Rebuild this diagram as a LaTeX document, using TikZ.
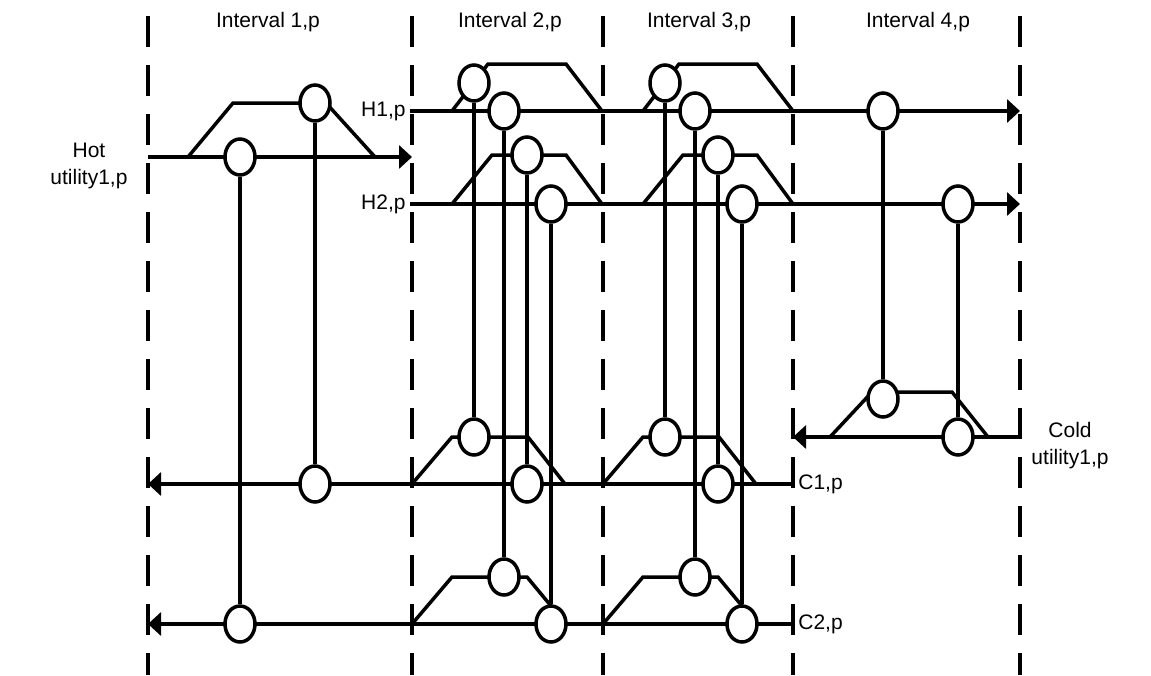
\documentclass[tikz,border=0pt]{standalone}
\usepackage{fontspec}
\setmainfont{Liberation Sans}
\usepackage{tikz}
\usetikzlibrary{arrows.meta,calc,positioning,shapes.geometric}
\newcommand{\bypass}[6]{%
  \draw[stream] (#1,#5) -- (#2,#6) -- (#3,#6) -- (#4,#5);
}
\newcommand{\hxlink}[4]{%
  \node[hx] (#1h) at (#2,#3) {};
  \node[hx] (#1c) at (#2,#4) {};
  \draw[stream] (#1h) -- (#1c);
}

\begin{document}
\begin{tikzpicture}[x=.5pt,y=-.5pt,font=\fontsize{10.5}{13.5}\selectfont,
    stream/.style={line width=1.75pt},
    flow/.style={stream,-{Triangle[length=6.5pt,width=11.5pt]}},
    divider/.style={line width=2pt,dash pattern=on 15.5pt off 9pt},
    hx/.style={ellipse,draw,fill=white,line width=1.75pt,inner sep=0pt,
      minimum width=15pt,minimum height=18pt},
    lbl/.style={inner sep=2pt,align=center}]
    \useasboundingbox (0,0) rectangle (1151,675);
    \foreach \xl in {148,412,603,793,1020}
      \draw[divider] (\xl,16) -- (\xl,675);
    \node[lbl] (int1) at (268,22) {Interval 1,p};
    \node[lbl] (int2) at (510,22) {Interval 2,p};
    \node[lbl] (int3) at (699,22) {Interval 3,p};
    \node[lbl] (int4) at (918,22) {Interval 4,p};
    \node[lbl,anchor=east] (h1lab) at (410,111) {H1,p};
    \node[lbl,anchor=east] (h2lab) at (410,204) {H2,p};
    \node[lbl,anchor=west] (c1lab) at (794,484) {C1,p};
    \node[lbl,anchor=west] (c2lab) at (794,624) {C2,p};
    \node[lbl] (hulab) at (89,166) {Hot\\utility1,p};
    \node[lbl] (culab) at (1070,446) {Cold\\utility1,p};
    \coordinate (hustart) at (148,157);
    \coordinate (huend) at (412,157);
    \coordinate (h1end) at (1020,111);
    \coordinate (h2end) at (1020,204);
    \coordinate (custart) at (1020,437);
    \coordinate (cuend) at (793,437);
    \coordinate (c1end) at (148,484);
    \coordinate (c2end) at (148,624);
    \draw[flow] (hustart) -- (huend);
    \draw[flow] (h1lab.east) -- (h1end);
    \draw[flow] (h2lab.east) -- (h2end);
    \draw[flow] (custart) -- (cuend);
    \draw[flow] (c1lab.west) -- (c1end);
    \draw[flow] (c2lab.west) -- (c2end);
    \bypass{188}{233}{326}{375}{157}{103}
    \hxlink{e1}{315}{103}{484}
    \hxlink{e2}{240}{157}{624}
    \foreach \xo/\k in {412/2,603/3}{
      \bypass{\xo+40}{\xo+76}{\xo+154}{\xo+190}{111}{64}
      \bypass{\xo+40}{\xo+80}{\xo+154}{\xo+190}{204}{155}
      \bypass{\xo}{\xo+40}{\xo+116}{\xo+153}{484}{437}
      \bypass{\xo}{\xo+40}{\xo+115}{\xo+154}{624}{577}
      \hxlink{a\k}{\xo+62}{83}{437}
      \hxlink{b\k}{\xo+92}{111}{577}
      \hxlink{c\k}{\xo+115}{155}{484}
      \hxlink{d\k}{\xo+139}{204}{624}
    }
    \bypass{830}{872}{952}{988}{437}{392}
    \hxlink{f4}{883}{111}{399}
    \hxlink{g4}{958}{204}{437}
\end{tikzpicture}
\end{document}
